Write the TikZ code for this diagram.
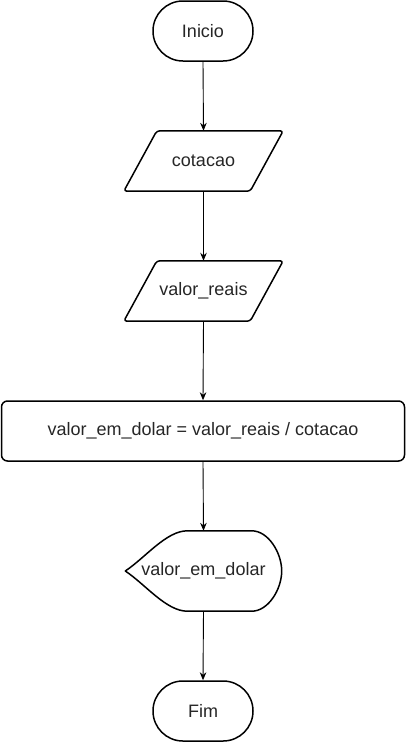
\documentclass[tikz,border=0pt]{standalone}
\usepackage{fontspec}
\setmainfont{Liberation Sans}
\usetikzlibrary{arrows.meta}
\begin{document}
\begin{tikzpicture}[x=1pt,y=-1pt,
  box/.style={inner sep=0pt, minimum width=#1, minimum height=60pt, font=\fontsize{18}{21}\selectfont, text=black!85},
  outline/.style={draw=black, line width=1.5pt, line join=round},
  conn/.style={draw=black, line width=0.9pt, -{Stealth[length=8pt,width=6.5pt]}}]
\useasboundingbox (0,0) rectangle (406,742);
% Inicio
\node[box=100pt, outline, rounded corners=29.9pt] (ini) at (203,31) {Inicio};
% cotacao
\node[box=159pt] (cot) at (203.5,161) {cotacao};
\draw[outline, rounded corners=3pt] ([xshift=33pt]cot.north west) -- (cot.north east) -- ([xshift=-33pt]cot.south east) -- (cot.south west) -- cycle;
% valor_reais
\node[box=159pt] (vr) at (203.5,291) {valor\_reais};
\draw[outline, rounded corners=3pt] ([xshift=33pt]vr.north west) -- (vr.north east) -- ([xshift=-33pt]vr.south east) -- (vr.south west) -- cycle;
% process
\node[box=403pt, outline, rounded corners=6pt] (proc) at (203,431) {valor\_em\_dolar = valor\_reais / cotacao};
% display
\node[box=156pt, minimum height=80pt] (disp) at (203.5,571) {valor\_em\_dolar};
\draw[outline] (disp.west)
  .. controls ([xshift=20pt,yshift=13.3pt]disp.west) and ([xshift=41pt]disp.north west) .. ([xshift=62pt]disp.north west)
  -- ([xshift=-30pt]disp.north east)
  .. controls ([xshift=-13.4pt]disp.north east) and ([yshift=-22pt]disp.north east) .. (disp.east)
  .. controls ([yshift=22pt]disp.south east) and ([xshift=-13.4pt]disp.south east) .. ([xshift=-30pt]disp.south east)
  -- ([xshift=62pt]disp.south west)
  .. controls ([xshift=41pt]disp.south west) and ([xshift=20pt,yshift=-13.3pt]disp.west) .. (disp.west) -- cycle;
% Fim
\node[box=100pt, outline, rounded corners=29.9pt] (fim) at (203,711) {Fim};
% connectors
\draw[conn] (ini.south) -- (cot.north);
\draw[conn] (cot.south) -- (vr.north);
\draw[conn] (vr.south) -- (proc.north);
\draw[conn] (proc.south) -- (disp.north);
\draw[conn] (disp.south) -- (fim.north);
\end{tikzpicture}
\end{document}
